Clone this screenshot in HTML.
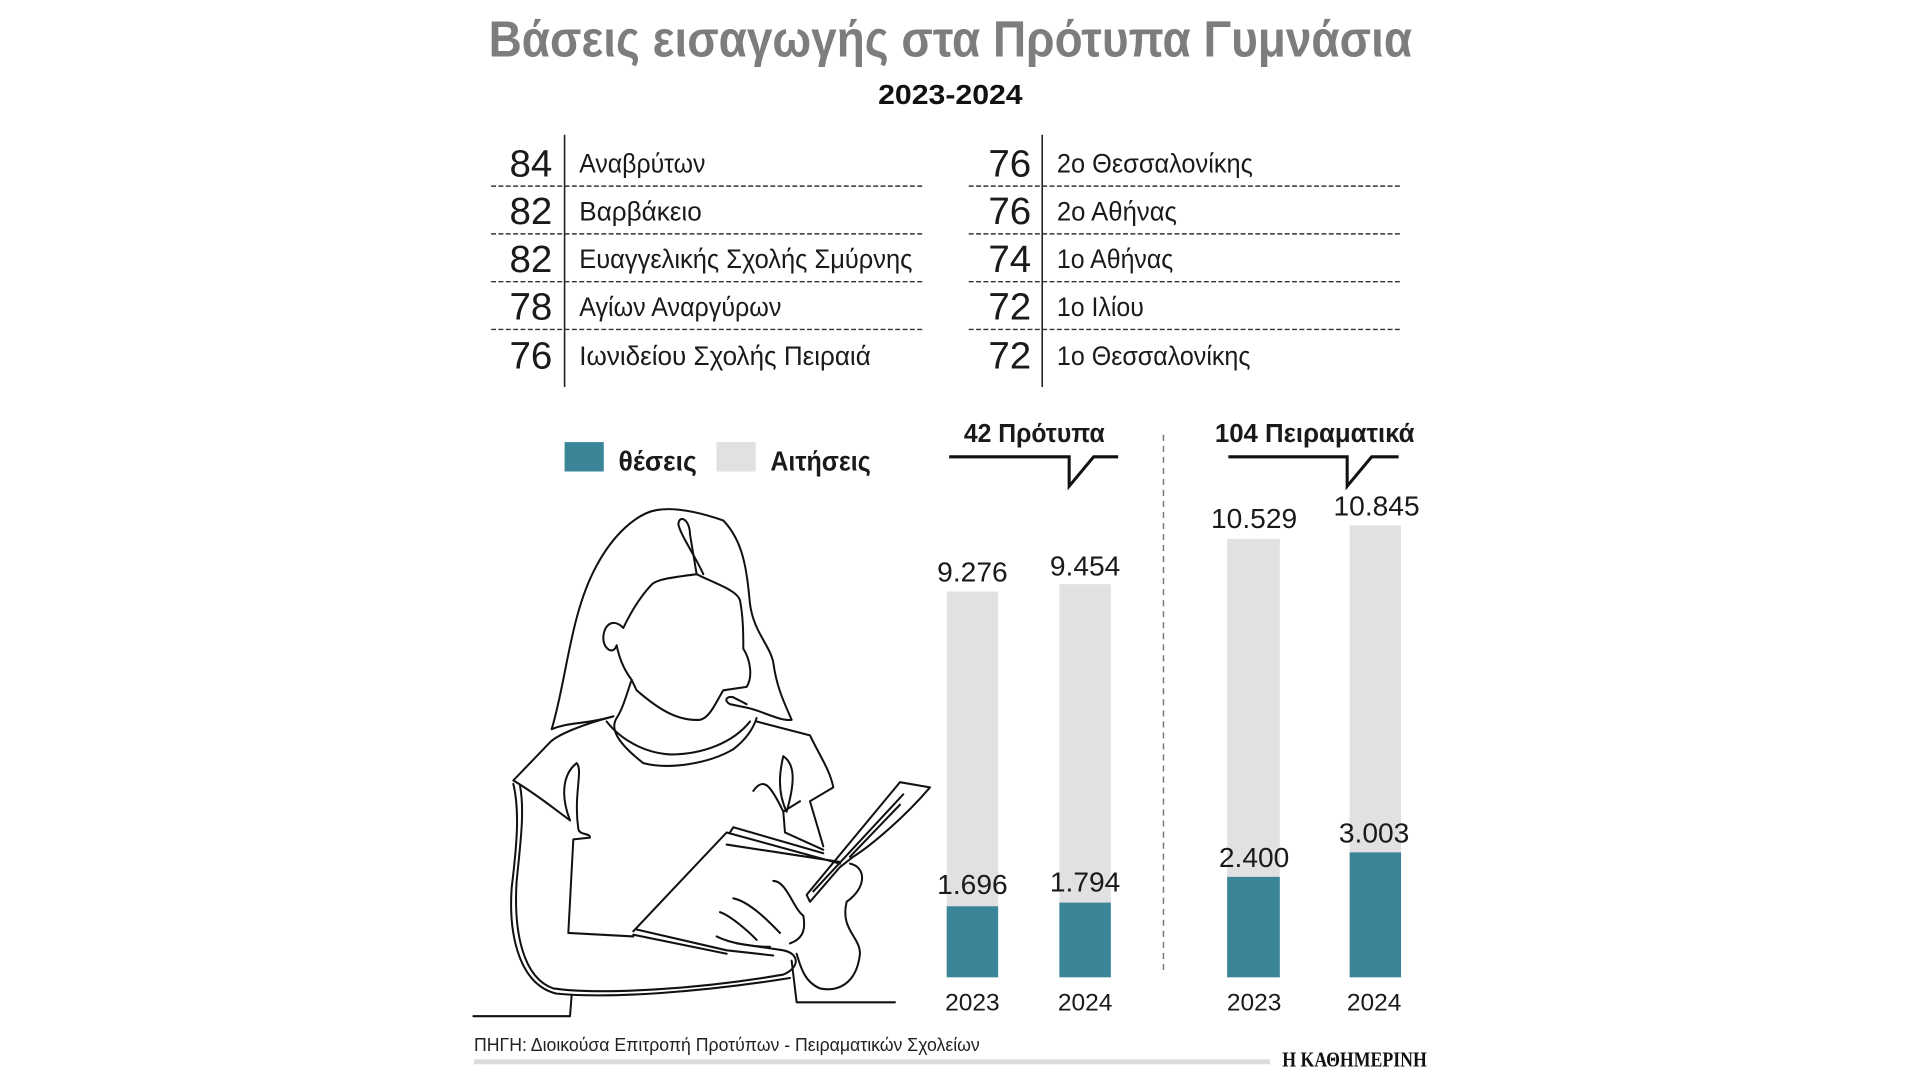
<!DOCTYPE html>
<html><head><meta charset="utf-8"><style>
html,body{margin:0;padding:0;background:#fff;width:1920px;height:1080px;overflow:hidden}
svg{display:block}
text{font-family:"Liberation Sans Narrow","Liberation Sans","DejaVu Sans",sans-serif}
</style></head><body>
<svg width="1920" height="1080" viewBox="0 0 1920 1080" xmlns="http://www.w3.org/2000/svg">
<g transform="scale(1.2247)">
<text x="776" y="46" text-anchor="middle" font-size="42" font-weight="bold" fill="#7d7d7f" textLength="754" lengthAdjust="spacingAndGlyphs">Βάσεις εισαγωγής στα Πρότυπα Γυμνάσια</text>
<text x="776" y="85" text-anchor="middle" font-size="23" font-weight="bold" fill="#111" textLength="118" lengthAdjust="spacingAndGlyphs">2023-2024</text>

<g stroke="#222" stroke-width="1.3">
<line x1="461" y1="110" x2="461" y2="316"/>
<line x1="851" y1="110" x2="851" y2="316"/>
</g>
<g stroke="#333" stroke-width="1.2" stroke-dasharray="4 2">
<line x1="401" y1="152" x2="753" y2="152"/><line x1="401" y1="191" x2="753" y2="191"/>
<line x1="401" y1="230" x2="753" y2="230"/><line x1="401" y1="269" x2="753" y2="269"/>
<line x1="791" y1="152" x2="1143" y2="152"/><line x1="791" y1="191" x2="1143" y2="191"/>
<line x1="791" y1="230" x2="1143" y2="230"/><line x1="791" y1="269" x2="1143" y2="269"/>
</g>
<g font-size="31" fill="#1a1a1a" text-anchor="end">
<text x="451" y="144" textLength="35" lengthAdjust="spacingAndGlyphs">84</text>
<text x="451" y="183" textLength="35" lengthAdjust="spacingAndGlyphs">82</text>
<text x="451" y="222" textLength="35" lengthAdjust="spacingAndGlyphs">82</text>
<text x="451" y="261" textLength="35" lengthAdjust="spacingAndGlyphs">78</text>
<text x="451" y="301" textLength="35" lengthAdjust="spacingAndGlyphs">76</text>
<text x="842" y="144" textLength="35" lengthAdjust="spacingAndGlyphs">76</text>
<text x="842" y="183" textLength="35" lengthAdjust="spacingAndGlyphs">76</text>
<text x="842" y="222" textLength="35" lengthAdjust="spacingAndGlyphs">74</text>
<text x="842" y="261" textLength="35" lengthAdjust="spacingAndGlyphs">72</text>
<text x="842" y="301" textLength="35" lengthAdjust="spacingAndGlyphs">72</text>
</g>
<g font-size="22" fill="#1a1a1a">
<text x="473" y="141" textLength="103" lengthAdjust="spacingAndGlyphs">Αναβρύτων</text>
<text x="473" y="180" textLength="100" lengthAdjust="spacingAndGlyphs">Βαρβάκειο</text>
<text x="473" y="219" textLength="272" lengthAdjust="spacingAndGlyphs">Ευαγγελικής Σχολής Σμύρνης</text>
<text x="473" y="258" textLength="165" lengthAdjust="spacingAndGlyphs">Αγίων Αναργύρων</text>
<text x="473" y="298" textLength="238" lengthAdjust="spacingAndGlyphs">Ιωνιδείου Σχολής Πειραιά</text>
<text x="863" y="141" textLength="160" lengthAdjust="spacingAndGlyphs">2ο Θεσσαλονίκης</text>
<text x="863" y="180" textLength="98" lengthAdjust="spacingAndGlyphs">2ο Αθήνας</text>
<text x="863" y="219" textLength="95" lengthAdjust="spacingAndGlyphs">1ο Αθήνας</text>
<text x="863" y="258" textLength="71" lengthAdjust="spacingAndGlyphs">1ο Ιλίου</text>
<text x="863" y="298" textLength="158" lengthAdjust="spacingAndGlyphs">1ο Θεσσαλονίκης</text>
</g>

<rect x="461" y="361" width="32" height="24" fill="#3a8698"/>
<rect x="585" y="361" width="32" height="24" fill="#e1e1e3"/>
<g font-size="23" font-weight="bold" fill="#1a1a1a">
<text x="505" y="384" textLength="64" lengthAdjust="spacingAndGlyphs">θέσεις</text>
<text x="629" y="384" textLength="82" lengthAdjust="spacingAndGlyphs">Αιτήσεις</text>
<text x="787" y="361" font-size="21" textLength="115" lengthAdjust="spacingAndGlyphs">42 Πρότυπα</text>
<text x="992" y="361" font-size="21" textLength="163" lengthAdjust="spacingAndGlyphs">104 Πειραματικά</text>
</g>
<g fill="none" stroke="#111" stroke-width="2.5">
<path d="M775,373 H873 V397 L893,373 H913"/>
<path d="M1003,373 H1100 V397 L1120,373 H1142"/>
</g>
<line x1="950" y1="355" x2="950" y2="796" stroke="#777" stroke-width="1.2" stroke-dasharray="5 4"/>

<g fill="#e1e1e3">
<rect x="773" y="483" width="42" height="315"/>
<rect x="865" y="477" width="42" height="321"/>
<rect x="1002" y="440" width="43" height="358"/>
<rect x="1102" y="429" width="42" height="369"/>
</g>
<g fill="#3a8698">
<rect x="773" y="740" width="42" height="58"/>
<rect x="865" y="737" width="42" height="61"/>
<rect x="1002" y="716" width="43" height="82"/>
<rect x="1102" y="696" width="42" height="102"/>
</g>
<g font-size="23" fill="#1a1a1a" text-anchor="middle" style="font-family:'Liberation Sans',sans-serif">
<text x="794" y="475">9.276</text>
<text x="886" y="470">9.454</text>
<text x="1024" y="431">10.529</text>
<text x="1124" y="421">10.845</text>
<text x="794" y="730">1.696</text>
<text x="886" y="728">1.794</text>
<text x="1024" y="708">2.400</text>
<text x="1122" y="688">3.003</text>
<g font-size="20">
<text x="794" y="825">2023</text><text x="886" y="825">2024</text>
<text x="1024" y="825">2023</text><text x="1122" y="825">2024</text>
</g>
</g>

<text x="387" y="858" font-size="15" fill="#222" textLength="413" lengthAdjust="spacingAndGlyphs">ΠΗΓΗ: Διοικούσα Επιτροπή Προτύπων - Πειραματικών Σχολείων</text>
<rect x="387" y="865" width="650" height="4" fill="#dcdcdc"/>
<text x="1047" y="871" font-size="17" font-weight="bold" fill="#111" textLength="118" lengthAdjust="spacingAndGlyphs" style="font-family:'Liberation Serif',serif">Η ΚΑΘΗΜΕΡΙΝΗ</text>
</g>

<g transform="translate(0 508) scale(1 1.04) translate(0 -508)">
<g transform="translate(470 500) scale(0.3333)" fill="none" stroke="#111" stroke-width="6" stroke-linejoin="round" stroke-linecap="round">
<path d="M245,662 C300,640 340,650 430,625 M245,662 C290,520 300,330 380,190 C430,100 500,40 560,30 C620,20 700,40 760,60 C820,120 830,200 840,300 C850,380 900,420 910,470 C920,540 940,580 965,635 C930,640 880,610 830,600 L780,590 C760,580 770,565 790,570 L830,590"/>
<path d="M700,215 C680,170 630,100 625,70 C630,40 660,60 660,100 L680,215 C600,225 560,230 545,245 C510,280 480,330 460,370 C430,340 400,360 400,400 C400,430 430,450 440,420 C450,470 470,500 485,520"/>
<path d="M680,215 C730,240 800,260 810,290 C820,340 820,390 820,430 C840,460 850,510 830,540 L760,550 C740,580 720,630 690,635 C620,640 560,600 500,550 L485,520 C470,560 460,600 440,630 C420,660 440,700 520,760 C600,780 720,760 790,720 C830,690 850,660 860,630"/>
<path d="M410,640 C450,690 520,730 600,735 C700,735 790,700 840,640"/>
<path d="M430,625 C330,650 260,680 240,700 L130,810 C200,850 250,890 300,925"/>
<path d="M150,825 C165,900 150,1000 140,1100 C130,1250 160,1380 250,1410 C400,1430 700,1410 940,1370 C990,1350 990,1310 940,1300 L800,1280"/>
<path d="M130,820 C150,900 140,1000 125,1120 C115,1260 150,1400 260,1425 C420,1440 700,1420 960,1380"/>
<path d="M860,640 L1020,680 C1050,740 1080,780 1090,830 L1020,870 L1060,1000"/>
<path d="M300,925 C270,850 280,790 320,760 C340,780 310,850 325,950 C330,970 360,960 360,975 L310,980 L295,1250 L490,1260"/>
<path d="M940,740 C970,760 980,800 950,900 C920,840 930,780 940,740 M850,840 C880,800 900,820 940,900 L990,870 M940,900 L945,960 L1060,1010"/>
<path d="M490,1245 L770,960 L1110,1050 M490,1255 L770,1310 M500,1240 L770,1300 L910,1315 M780,960 L790,945 L1060,1020 M770,995 L1110,1045"/>
<path d="M1010,1140 L1290,815 L1380,830 C1300,920 1200,1000 1150,1030 L1110,1060 L1020,1160 Z M1030,1130 L1300,850 M1140,1030 L1290,880"/>
<path d="M1140,1050 C1190,1060 1190,1120 1130,1160 C1110,1240 1170,1260 1170,1310 C1160,1400 1100,1420 1050,1410 C1000,1390 990,1340 980,1310"/>
<path d="M910,1100 C950,1100 970,1180 1000,1200 C1010,1250 990,1270 960,1280 M790,1150 C840,1160 900,1220 930,1250 M750,1190 C780,1200 830,1240 860,1270 M740,1260 C780,1280 850,1290 900,1290"/>
<path d="M10,1490 L300,1490 L305,1430 M965,1330 L980,1450 L1275,1450"/>
</g>
</g>
</svg>
</body></html>
